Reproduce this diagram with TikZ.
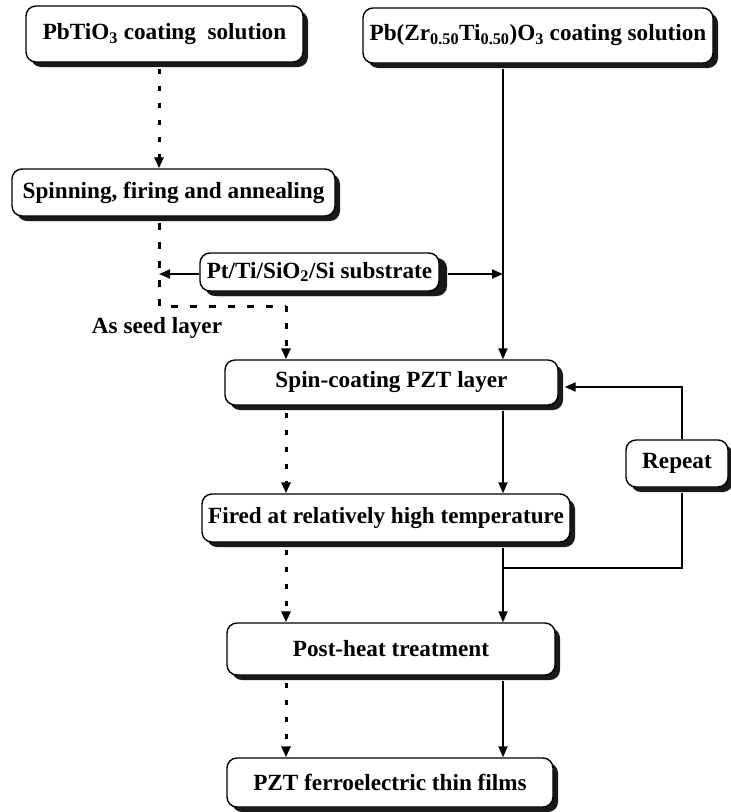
\documentclass[tikz,border=0pt]{standalone}
\usepackage{fontspec}
\setmainfont{Liberation Serif}
\usetikzlibrary{arrows.meta,shadows,calc}
\tikzset{
  box/.style={draw, line width=1.4pt, rounded corners=10pt, fill=white, inner sep=0pt,
    font=\bfseries\fontsize{23.2}{27}\selectfont,
    drop shadow={shadow xshift=5pt, shadow yshift=-5pt, fill=black!90, opacity=1}},
  sol/.style={line width=1.9pt, -{Triangle[length=11pt,width=9pt]}},
  solnt/.style={line width=1.9pt},
  dsh/.style={line width=3pt, dash pattern=on 5.5pt off 11.5pt, -{Triangle[length=11pt,width=9pt]}},
  dshnt/.style={line width=3pt, dash pattern=on 7pt off 12pt},
  lbl/.style={font=\bfseries\fontsize{23.2}{27}\selectfont, inner sep=0pt}
}
\begin{document}
\begin{tikzpicture}[x=1pt,y=-1pt]
\useasboundingbox (0,0) rectangle (731,812);
\node[box, minimum width=277pt, minimum height=56pt] (A) at (164.5,34) {PbTiO\textsubscript{3} coating\ \ solution};
\node[box, minimum width=350pt, minimum height=55pt] (B) at (538,35.5) {Pb(Zr\textsubscript{0.50}Ti\textsubscript{0.50})O\textsubscript{3} coating solution};
\node[box, minimum width=323pt, minimum height=47pt] (C) at (173.5,192.5) {Spinning, firing and annealing};
\node[box, minimum width=239pt, minimum height=38pt, drop shadow={shadow xshift=8pt, shadow yshift=-5pt, fill=black!90, opacity=1}] (D) at (319.5,272) {Pt/Ti/SiO\textsubscript{2}/Si substrate};
\node[box, minimum width=333pt, minimum height=45pt] (E) at (391.5,382.5) {Spin-coating PZT layer};
\node[box, minimum width=368pt, minimum height=48pt] (F) at (386,518) {Fired at relatively high temperature};
\node[box, minimum width=102pt, minimum height=47pt] (R) at (677,463.5) {Repeat};
\node[box, minimum width=328pt, minimum height=52pt] (G) at (391,649) {Post-heat treatment};
\node[box, minimum width=326pt, minimum height=49pt] (H) at (390,782.5) {PZT ferroelectric thin films};
\node[lbl] (seed) at (157,328) {As seed layer};

\coordinate (xL) at (159,0);
\coordinate (xD) at (286,0);
\coordinate (xS) at (503,0);
\coordinate (xR) at (682,0);
\coordinate (yseed) at (0,306);
\coordinate (yrep) at (0,568);
\coordinate (yback) at (0,387);
\coordinate (ysub) at (0,274);

\draw[dsh] ([yshift=-6pt]A.south -| xL) -- (C.north -| xL);
\draw[sol] ([yshift=-5pt]B.south -| xS) -- (E.north -| xS);
\draw[dshnt] ([yshift=-6pt]C.south -| xL) |- (yseed -| xD);
\draw[dsh] (yseed -| xD) -- (E.north -| xD);
\draw[sol] (D.west |- ysub) -- (ysub -| xL);
\draw[sol] ($(D.east |- ysub)+(8,0)$) -- (ysub -| xS);
\draw[dsh] ([yshift=-7pt]E.south -| xD) -- (F.north -| xD);
\draw[sol] ([yshift=-5pt]E.south -| xS) -- (F.north -| xS);
\draw[dsh] ([yshift=-7pt]F.south -| xD) -- (G.north -| xD);
\draw[sol] ([yshift=-5pt]F.south -| xS) -- (G.north -| xS);
\draw[dsh] ([yshift=-7pt]G.south -| xD) -- (H.north -| xD);
\draw[sol] ([yshift=-5pt]G.south -| xS) -- (H.north -| xS);
\draw[solnt] (yrep -| xS) -| ([yshift=-5pt]R.south -| xR);
\draw[sol] (R.north -| xR) |- ($(E.east |- yback)+(6,0)$);
\end{tikzpicture}
\end{document}
